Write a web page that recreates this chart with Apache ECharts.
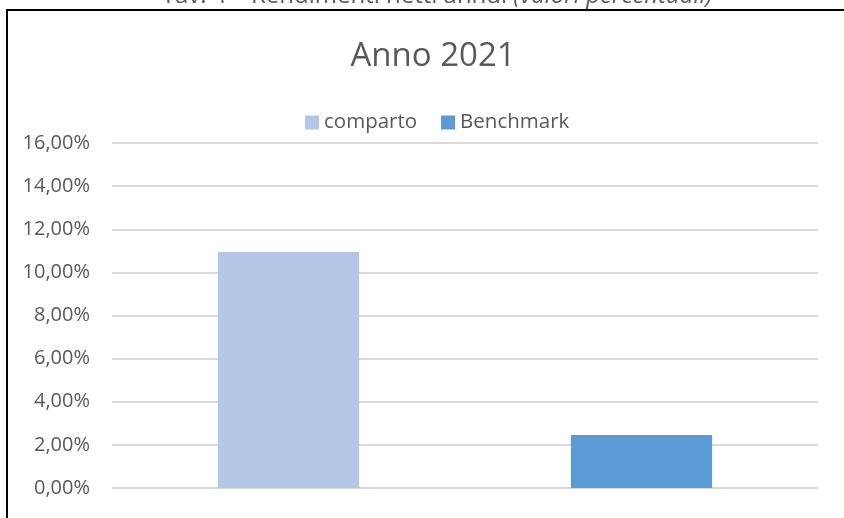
<!DOCTYPE html>
<html>
<head>
<meta charset="utf-8">
<script src="https://cdn.jsdelivr.net/npm/echarts@6/dist/echarts.min.js"></script>
<style>
  html, body { margin: 0; padding: 0; background: #fff; }
  #main { width: 844px; height: 518px; }
</style>
</head>
<body>
<div id="main"></div>
<script>
var chartDom = document.getElementById('main');
var myChart = echarts.init(chartDom);
var option;

// data
var categories = ['comparto', 'Benchmark'];
var comparto = [10.95, null];
var benchmark = [null, 2.46];
var yTicks = [0, 2, 4, 6, 8, 10, 12, 14, 16];

var textColor = '#595959';
var fontName = 'Open Sans';

option = {
  animation: false,
  title: {
    text: 'Anno 2021',
    left: 428,
    textAlign: 'center',
    top: 35,
    textStyle: { fontFamily: fontName, fontSize: 33, fontWeight: 'normal', color: textColor }
  },
  legend: {
    data: categories,
    top: 107,
    left: 300,
    itemWidth: 14,
    itemHeight: 14,
    itemGap: 24,
    icon: 'rect',
    textStyle: { fontFamily: fontName, fontSize: 20.5, color: textColor }
  },
  graphic: [
    {
      type: 'text',
      style: {
        x: 437,
        y: 8,
        align: 'center',
        verticalAlign: 'bottom',
        rich: {
          n: { fontFamily: fontName, fontSize: 24, fill: textColor },
          i: { fontFamily: fontName, fontSize: 24, fontStyle: 'italic', fill: textColor }
        },
        text: '{n|Tav. 4 – Rendimenti netti annui }{i|(valori percentuali)}'
      }
    },
    {
      type: 'rect',
      shape: { x: 7, y: 10, width: 850, height: 520 },
      style: { fill: 'none', stroke: '#000', lineWidth: 2 },
      z: 100
    }
  ],
  grid: { left: 112, right: 26, top: 143, bottom: 30, containLabel: false },
  xAxis: {
    type: 'category',
    data: categories,
    axisLine: { show: false },
    axisTick: { show: false },
    axisLabel: { show: false }
  },
  yAxis: {
    type: 'value',
    min: yTicks[0],
    max: yTicks[yTicks.length - 1],
    interval: 2,
    axisLine: { show: false },
    axisTick: { show: false },
    splitLine: { lineStyle: { color: '#d9d9d9', width: 2 } },
    axisLabel: {
      margin: 22,
      fontFamily: fontName,
      fontSize: 20,
      color: textColor,
      formatter: function (v) { return v.toFixed(2).replace('.', ',') + '%'; }
    }
  },
  series: [
    {
      name: 'comparto',
      type: 'bar',
      data: comparto,
      barWidth: '40%',
      barGap: '-100%',
      itemStyle: { color: '#B4C7E7' }
    },
    {
      name: 'Benchmark',
      type: 'bar',
      data: benchmark,
      barWidth: '40%',
      itemStyle: { color: '#5B9BD5' }
    }
  ]
};

option && myChart.setOption(option);
</script>
</body>
</html>
